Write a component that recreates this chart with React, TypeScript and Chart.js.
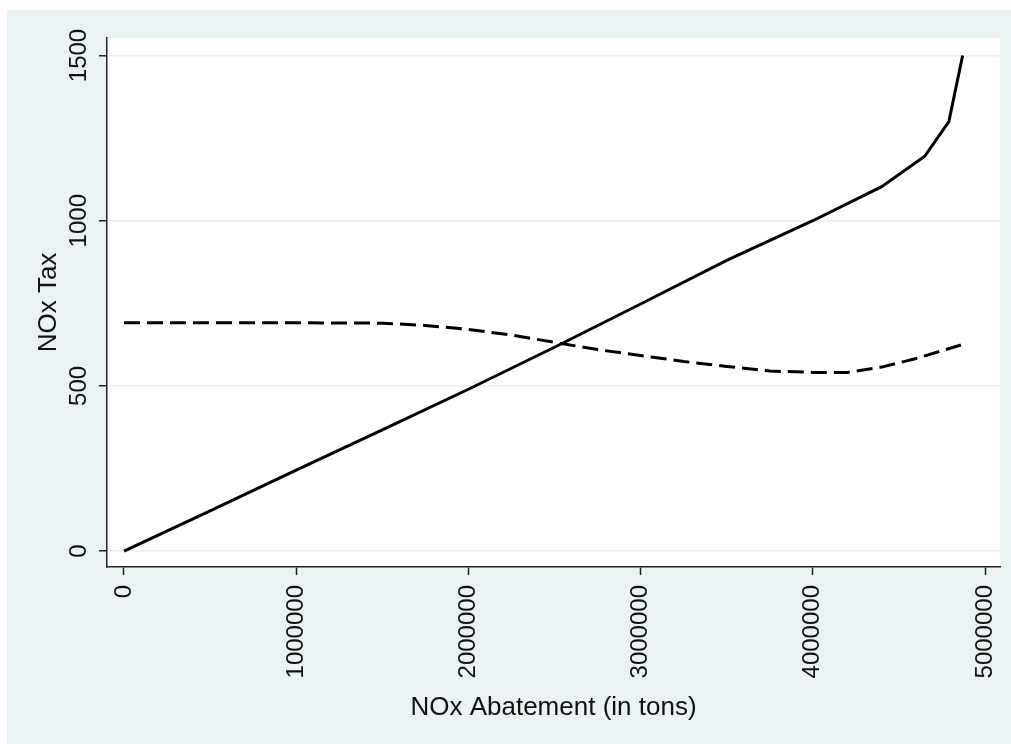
import React, { useEffect, useRef } from 'react';
import { Chart, registerables } from 'chart.js';

Chart.register(...registerables);

// Solid line: NOx tax vs abatement
const abatementSolid = [0, 500000, 1000000, 1500000, 2000000, 2500000, 3000000, 3500000, 4000000, 4400000, 4650000, 4790000, 4870000];
const taxSolid = [0, 122, 245, 367, 490, 617, 748, 880, 1000, 1103, 1195, 1300, 1500];

// Dashed line
const abatementDashed = [0, 500000, 1000000, 1500000, 1750000, 2000000, 2250000, 2500000, 2750000, 3000000, 3250000, 3500000, 3750000, 4000000, 4200000, 4400000, 4600000, 4860000];
const taxDashed = [691, 691, 691, 690, 683, 671, 654, 632, 610, 592, 574, 559, 545, 541, 541, 557, 583, 624];

const xTicks = [0, 1000000, 2000000, 3000000, 4000000, 5000000];
const yTicks = [0, 500, 1000, 1500];

const xTitle = 'NOx Abatement (in tons)';
const yTitle = 'NOx Tax';

const FONT = "'Liberation Sans', Arial, sans-serif";
const BG = '#eaf2f3';
const AXIS = '#222222';
const TEXT = '#111111';

export default function App() {
  const ref = useRef<HTMLCanvasElement>(null);

  useEffect(() => {
    if (!ref.current) return;
    const plotBg = {
      id: 'plotBg',
      beforeDraw(chart: any) {
        const { ctx, chartArea: a } = chart;
        ctx.save();
        ctx.fillStyle = '#ffffff';
        ctx.fillRect(a.left, a.top, a.right - a.left, a.bottom - a.top);
        ctx.restore();
      },
    };

    const chart = new Chart(ref.current, {
      type: 'line',
      data: {
        datasets: [
          {
            data: abatementSolid.map((x, i) => ({ x, y: taxSolid[i] })),
            borderColor: '#000000',
            borderWidth: 3,
            pointRadius: 0,
            tension: 0,
            fill: false,
          },
          {
            data: abatementDashed.map((x, i) => ({ x, y: taxDashed[i] })),
            borderColor: '#000000',
            borderWidth: 3,
            borderDash: [16, 7],
            pointRadius: 0,
            tension: 0,
            fill: false,
          },
        ],
      },
      options: {
        responsive: false,
        animation: false,
        layout: { padding: { top: 28, right: 11, left: 0, bottom: 0 } },
        plugins: {
          legend: { display: false },
          tooltip: { enabled: false },
        },
        scales: {
          x: {
            type: 'linear',
            min: -98700,
            max: 5087000,
            afterBuildTicks: (s: any) => {
              s.ticks = xTicks.map((v) => ({ value: v }));
            },
            afterFit: (s: any) => {
              s.height = 177;
              s.paddingLeft = 0;
              s.paddingRight = 0;
            },
            grid: {
              drawOnChartArea: false,
              drawTicks: true,
              tickLength: 8,
              tickColor: AXIS,
              tickWidth: 1.5,
            },
            border: { display: true, color: AXIS, width: 1.5 },
            ticks: {
              autoSkip: false,
              minRotation: 90,
              maxRotation: 90,
              padding: 10,
              color: TEXT,
              font: { family: FONT, size: 24 },
              callback: (v: any) => String(v),
            },
            title: {
              display: true,
              text: xTitle,
              color: TEXT,
              font: { family: FONT, size: 26 },
              padding: { top: 0, bottom: 21 },
            },
          },
          y: {
            type: 'linear',
            min: -48,
            max: 1553,
            afterBuildTicks: (s: any) => {
              s.ticks = yTicks.map((v) => ({ value: v }));
            },
            afterFit: (s: any) => {
              s.width = 100;
              s.paddingTop = 0;
              s.paddingBottom = 0;
            },
            grid: {
              color: BG,
              lineWidth: 1.5,
              drawTicks: true,
              tickLength: 8,
              tickColor: AXIS,
              tickWidth: 1.5,
            },
            border: { display: true, color: AXIS, width: 1.5 },
            ticks: {
              autoSkip: false,
              minRotation: 90,
              maxRotation: 90,
              crossAlign: 'center',
              padding: -7,
              color: TEXT,
              font: { family: FONT, size: 24 },
              callback: (v: any) => String(v),
            },
            title: {
              display: true,
              text: yTitle,
              color: TEXT,
              font: { family: FONT, size: 26 },
              padding: { top: 26, bottom: 0 },
            },
          },
        },
      },
      plugins: [plotBg],
    } as any);

    return () => chart.destroy();
  }, []);

  return (
    <div
      style={{
        position: 'absolute',
        left: 7,
        top: 10,
        width: 1004,
        height: 734,
        background: BG,
      }}
    >
      <canvas ref={ref} width={1004} height={734} style={{ display: 'block' }} />
    </div>
  );
}
